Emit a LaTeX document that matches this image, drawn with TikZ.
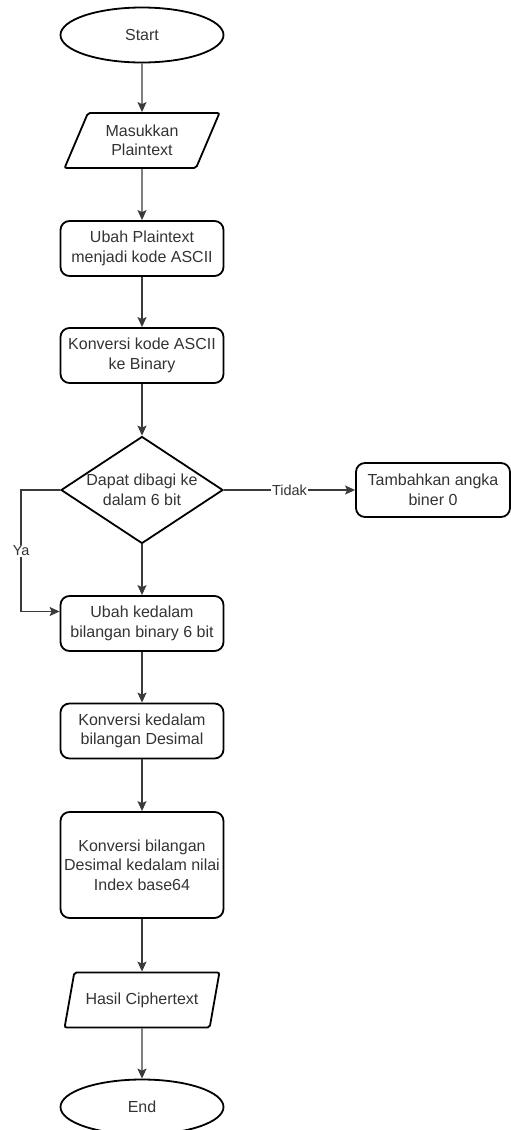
\documentclass[tikz,border=0pt]{standalone}
\usepackage{fontspec}
\setmainfont{Liberation Sans}
\usetikzlibrary{shapes.geometric,arrows.meta}

\begin{document}
\begin{tikzpicture}[x=1pt,y=-1pt,
  procbox/.style={draw=black,line width=1.8pt,rounded corners=9pt,minimum width=163pt,minimum height=55pt,
    align=center,text=txtgray,inner sep=2pt,font=\fontsize{16}{19.5}\selectfont},
  ioshape/.style={draw=black,line width=1.8pt,trapezium,trapezium left angle=64,trapezium right angle=116,
    trapezium stretches=true,minimum width=155pt,minimum height=55pt,rounded corners=2pt,
    align=center,text=txtgray,inner sep=1pt,font=\fontsize{16}{19.5}\selectfont},
  termnode/.style={draw=black,line width=1.8pt,ellipse,minimum width=163pt,minimum height=55pt,
    text=txtgray,font=\fontsize{16}{19.5}\selectfont},
  decnode/.style={draw=black,line width=1.8pt,diamond,minimum width=162pt,minimum height=107pt,inner sep=0pt},
  declbl/.style={align=center,text=txtgray,font=\fontsize{16}{19.5}\selectfont},
  edgelbl/.style={fill=white,inner sep=1pt,text=txtgray,font=\fontsize{14.5}{17}\selectfont},
  flowline/.style={draw=linegray,line width=1.3pt,-{Stealth[length=10pt,width=9pt,inset=2pt]}}]
\definecolor{txtgray}{HTML}{333333}
\definecolor{linegray}{HTML}{3A3A3A}
\useasboundingbox (0,0) rectangle (511,1130);

\node [termnode] (start) at (142,35) {Start};
\node [ioshape] (masuk) at (142,140.5) {Masukkan\\Plaintext};
  \foreach \nm/\ypos/\txt in {ascii/248.5/{Ubah Plaintext\\menjadi kode ASCII},
      biner/355.5/{Konversi kode ASCII\\ke Binary},
      ubah6/623.5/{Ubah kedalam\\bilangan binary 6 bit},
      desimal/731/{Konversi kedalam\\bilangan Desimal}}
  {  \node [procbox] (\nm) at (142,\ypos) {\txt};}
\node [decnode,label={[declbl]center:{Dapat dibagi ke\\dalam 6 bit}}] (cek) at (142,490) {};
\node [procbox,minimum width=154pt,minimum height=54pt] (tambah) at (433,490) {Tambahkan angka\\biner 0};
\node [procbox,minimum height=106pt] (indeks) at (142,865) {Konversi bilangan\\Desimal kedalam nilai\\Index base64};
\node [ioshape] (hasil) at (142,1000) {Hasil Ciphertext};
\node [termnode] (selesai) at (142,1107) {End};

\draw [flowline] (start) -- (masuk);
\draw [flowline] (masuk) -- (ascii);
\draw [flowline] (ascii) -- (biner);
\draw [flowline] (biner) -- (cek);
\draw [flowline] (cek) -- (ubah6);
\draw [flowline] (cek) -- (tambah) node [edgelbl,midway] {Tidak};
\draw [flowline] (cek.west) -- ++(-39,0) |- ([yshift=12pt]ubah6.west) node [edgelbl,pos=0.25] {Ya};
\draw [flowline] (ubah6) -- (desimal);
\draw [flowline] (desimal) -- (indeks);
\draw [flowline] (indeks) -- (hasil);
\draw [flowline] (hasil) -- (selesai);
\end{tikzpicture}
\end{document}
